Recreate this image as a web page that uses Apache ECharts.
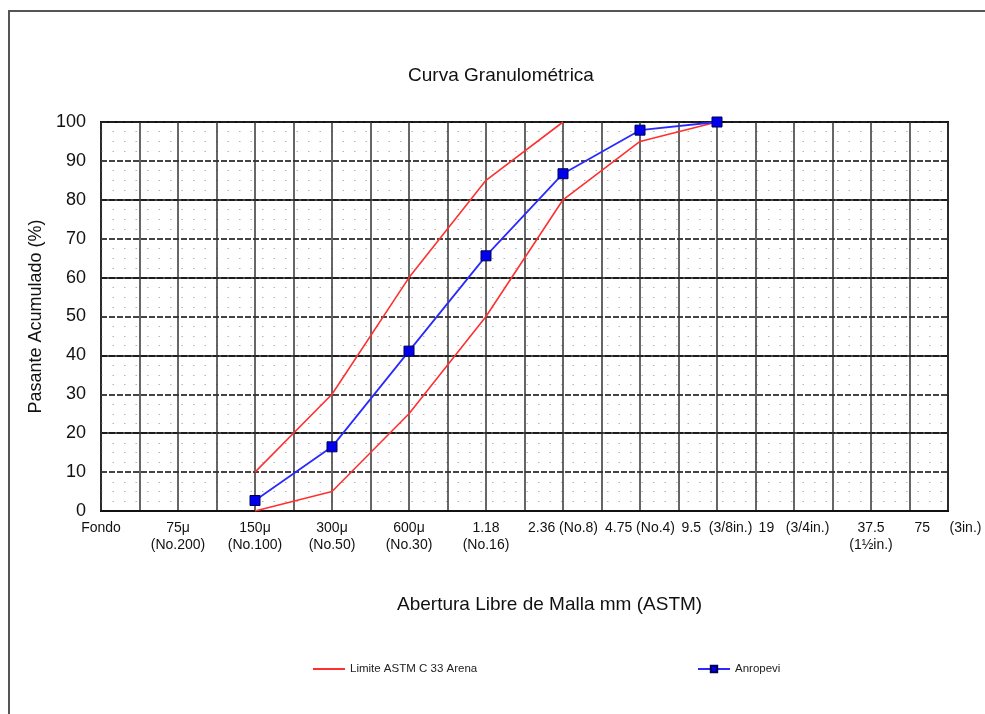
<!DOCTYPE html>
<html>
<head>
<meta charset="utf-8">
<script src="https://cdn.jsdelivr.net/npm/echarts@6/dist/echarts.min.js"></script>
<style>
  html, body { margin: 0; padding: 0; background: #fff; }
  #chart { width: 985px; height: 714px; }
</style>
</head>
<body>
<div id="chart"></div>
<script>
// Sieve openings (ASTM), one label per sieve
const sieveLabels = [
  'Fondo',
  '75μ\n(No.200)',
  '150μ\n(No.100)',
  '300μ\n(No.50)',
  '600μ\n(No.30)',
  '1.18\n(No.16)',
  '2.36 (No.8)',
  '4.75 (No.4)',
  '9.5  (3/8in.)',
  '19   (3/4in.)',
  '37.5\n(1½in.)',
  '75     (3in.)'
];

// ASTM C 33 sand grading limits (% passing)
const limitUpper = [null, null, 10, 30, 60, 85, 100, null, null, null, null, null];
const limitLower = [null, null, 0, 5, 25, 50, 80, 95, 100, null, null, null];

// Sample grading (% passing)
const anropevi = [null, null, 2.7, 16.5, 41.1, 65.6, 86.7, 97.9, 100, null, null, null];

const yTicks = [0, 10, 20, 30, 40, 50, 60, 70, 80, 90, 100];

// Each sieve occupies two grid columns on the x scale
const STEP = 2;
const toPairs = vals => vals.map((v, i) => v === null ? null : [i * STEP, v]).filter(p => p !== null);

const FONT = 'Liberation Sans, Arial, sans-serif';

const chart = echarts.init(document.getElementById('chart'), null, { renderer: 'canvas' });

const option = {
  backgroundColor: '#fff',
  animation: false,
  title: {
    text: 'Curva Granulométrica',
    left: 496, top: 61, textAlign: 'center',
    textStyle: { fontFamily: FONT, fontSize: 19, fontWeight: 'normal', color: '#111' }
  },
  graphic: [
    {
      type: 'rect', z: 0,
      shape: { x: 9, y: 11, width: 1000, height: 800 },
      style: { fill: 'none', stroke: '#555', lineWidth: 2 }
    },
    {
      type: 'text', left: 397, top: 595,
      style: { text: 'Abertura Libre de Malla mm (ASTM)', font: '19px ' + FONT, fill: '#111' }
    }
  ],
  legend: [
    {
      data: [{ name: 'Limite ASTM C 33 Arena', icon: 'rect' }],
      left: 308, top: 658,
      itemWidth: 32, itemHeight: 2,
      textStyle: { fontFamily: FONT, fontSize: 11.5, color: '#222' }
    },
    {
      data: ['Anropevi'],
      left: 692, top: 658,
      itemWidth: 32, itemHeight: 8,
      textStyle: { fontFamily: FONT, fontSize: 11.5, color: '#222' }
    }
  ],
  grid: {
    left: 101, top: 122, right: 37, bottom: 203,
    show: true, borderColor: '#111', borderWidth: 2, backgroundColor: '#fff'
  },
  xAxis: {
    type: 'value',
    min: 0, max: (sieveLabels.length - 1) * STEP, interval: 1,
    axisLine: { show: true, lineStyle: { color: '#111', width: 2 } },
    axisTick: { show: false },
    axisLabel: {
      fontFamily: FONT, fontSize: 14, lineHeight: 17, color: '#111', margin: 9,
      showMinLabel: true, showMaxLabel: true, interval: 0,
      formatter: v => (v % STEP === 0 ? sieveLabels[v / STEP] : '')
    },
    splitLine: { show: true, lineStyle: { color: '#333', width: 1.5 } }
  },
  yAxis: [
    {
      type: 'value',
      min: yTicks[0], max: yTicks[yTicks.length - 1], interval: 10,
      name: 'Pasante Acumulado (%)',
      nameLocation: 'middle', nameGap: 54,
      nameTextStyle: { fontFamily: FONT, fontSize: 18, color: '#111' },
      axisLine: { show: false },
      axisTick: { show: false },
      axisLabel: { fontFamily: FONT, fontSize: 18, color: '#111', margin: 15 },
      splitLine: { show: true, lineStyle: { color: '#444', width: 2, type: [6, 2] } },
      minorTick: { show: false, splitNumber: 4 },
      minorSplitLine: { show: true, lineStyle: { color: '#b4b4b4', width: 1.2, type: [1.5, 10] } }
    },
    {
      type: 'value',
      min: 0, max: 100, interval: 20,
      position: 'left',
      axisLine: { show: false },
      axisTick: { show: false },
      axisLabel: { show: false },
      splitLine: { show: true, lineStyle: { color: '#111', width: 1.5 } }
    }
  ],
  series: [
    {
      name: 'Limite ASTM C 33 Arena',
      type: 'line', yAxisIndex: 0, z: 3,
      data: toPairs(limitUpper),
      symbol: 'none',
      lineStyle: { color: '#ff3030', width: 1.6 },
      itemStyle: { color: '#ff3030' }
    },
    {
      name: 'Limite ASTM C 33 Arena',
      type: 'line', yAxisIndex: 0, z: 3,
      data: toPairs(limitLower),
      symbol: 'none',
      lineStyle: { color: '#ff3030', width: 1.6 },
      itemStyle: { color: '#ff3030' }
    },
    {
      name: 'Anropevi',
      type: 'line', yAxisIndex: 0, z: 4,
      data: toPairs(anropevi),
      symbol: 'rect', symbolSize: 10,
      lineStyle: { color: '#2a2aff', width: 1.8 },
      itemStyle: { color: '#0000ee', borderColor: '#000050', borderWidth: 1 }
    }
  ]
};

chart.setOption(option);
</script>
</body>
</html>
